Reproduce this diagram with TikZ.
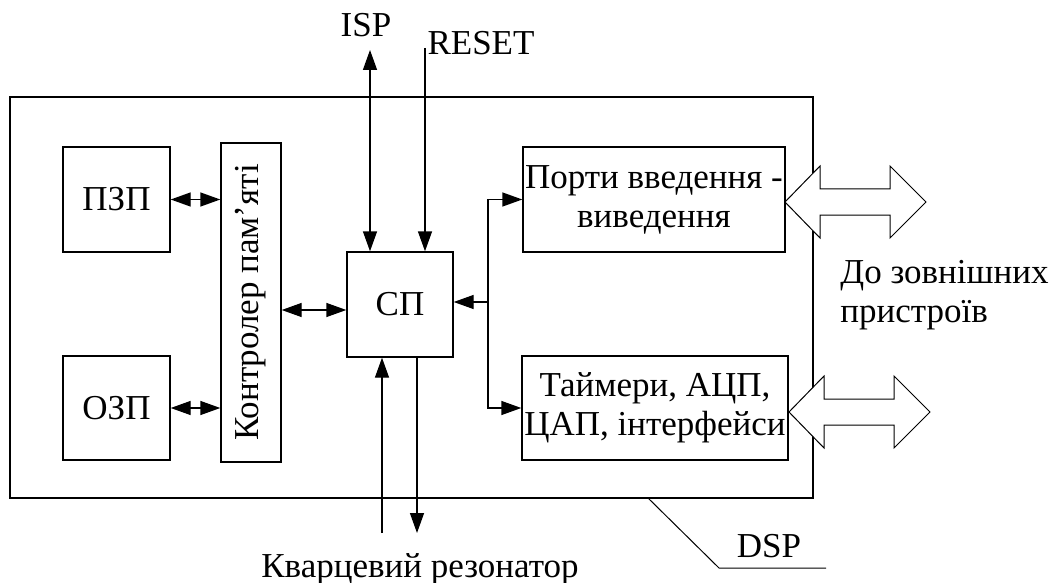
\documentclass[tikz,border=0pt]{standalone}
\usepackage{fontspec}
\setmainfont{Liberation Serif}
\usetikzlibrary{arrows.meta,positioning}

\tikzset{
  blk/.style={draw, line width=0.7pt, inner sep=0pt, align=center,
    font=\fontsize{17.5}{19.5}\selectfont},
  lbl/.style={inner sep=0pt, align=left, font=\fontsize{17.5}{19.5}\selectfont},
  sig/.style={line width=0.7pt, -{Triangle[length=10pt,width=7pt]}},
  sigboth/.style={line width=0.7pt,
    {Triangle[length=10pt,width=7pt]}-{Triangle[length=10pt,width=7pt]}},
  bus/.style={draw, line width=0.5pt, fill=white},
}

\begin{document}
\begin{tikzpicture}[x=0.5pt, y=-0.5pt]
  \useasboundingbox (0,0) rectangle (1050,583);

  % whole chip
  \node [blk, minimum width=401.5pt, minimum height=200.5pt](dsp) at (411.5,297.5) {};

  \node [blk, minimum width=53.5pt, minimum height=52.5pt](pzp) at (116.5,199.5) {ПЗП};
  \node [blk, minimum width=53.5pt, minimum height=52pt](ozp) at (116.5,408) {ОЗП};
  \node [blk, minimum width=30pt, minimum height=159.5pt](ctrl) at (251,302.5) {};
  \node [lbl, rotate=90](ctrltxt) at (ctrl) {Контролер пам’яті};
  \node [blk, minimum width=53pt, minimum height=52.5pt](sp) at (400,304.5) {СП};
  \node [blk, minimum width=131pt, minimum height=52.5pt](ports) at (654,199.5) {Порти введення -\\виведення};
  \node [blk, minimum width=133pt, minimum height=52pt](timers) at (655,408) {Таймери, АЦП,\\ЦАП, інтерфейси};

  % outside labels
  \node [lbl, anchor=base](isptxt) at (366,37) {ISP};
  \node [lbl, anchor=base](rsttxt) at (481,55) {RESET};
  \node [lbl, anchor=base](qtxt) at (420,577) {Кварцевий резонатор};
  \node [lbl, anchor=base](dsptxt) at (769,557) {DSP};
  \node [lbl, anchor=base west](ext1) at (840,283) {До зовнішних};
  \node [lbl, anchor=base west](ext2) at (840,322) {пристроїв};

  \coordinate (isp) at (370,50);
  \coordinate (rst) at (425,48);
  \coordinate (xin) at (382,533);
  \coordinate (xout) at (417,533);
  \coordinate (bus) at (488,302);
  \coordinate (lead) at (648,498);

  % memory side
  \draw [sigboth] (pzp.east) -- (pzp.east -| ctrl.west);
  \draw [sigboth] (ozp.east) -- (ozp.east -| ctrl.west);
  \draw [sigboth] (ctrl.east |- 0,310) -- (sp.west |- 0,310);

  % control lines
  \draw [sigboth] (isp) -- (isp |- sp.north);
  \draw [sig] (rst) -- (rst |- sp.north);
  \draw [sig] (xin) -- (xin |- sp.south);
  \draw [sig] (xout |- sp.south) -- (xout);

  % internal bus
  \draw [sig] (bus) -- (bus -| sp.east);
  \draw [sig] (bus) |- (ports.west);
  \draw [sig] (bus) |- (timers.west);

  % wide arrows to the outside
  \foreach \xx/\yy in {785/202, 789/412}{
    \draw [bus] (\xx,\yy) -- ++(35,-36) -- ++(0,23) -- ++(70,0) -- ++(0,-23)
      -- ++(36,36) -- ++(-36,36) -- ++(0,-23) -- ++(-70,0) -- ++(0,23) -- cycle;
  }

  \draw [line width=0.5pt] (lead) -- ++(71,70) -- ++(107,0);
\end{tikzpicture}
\end{document}
